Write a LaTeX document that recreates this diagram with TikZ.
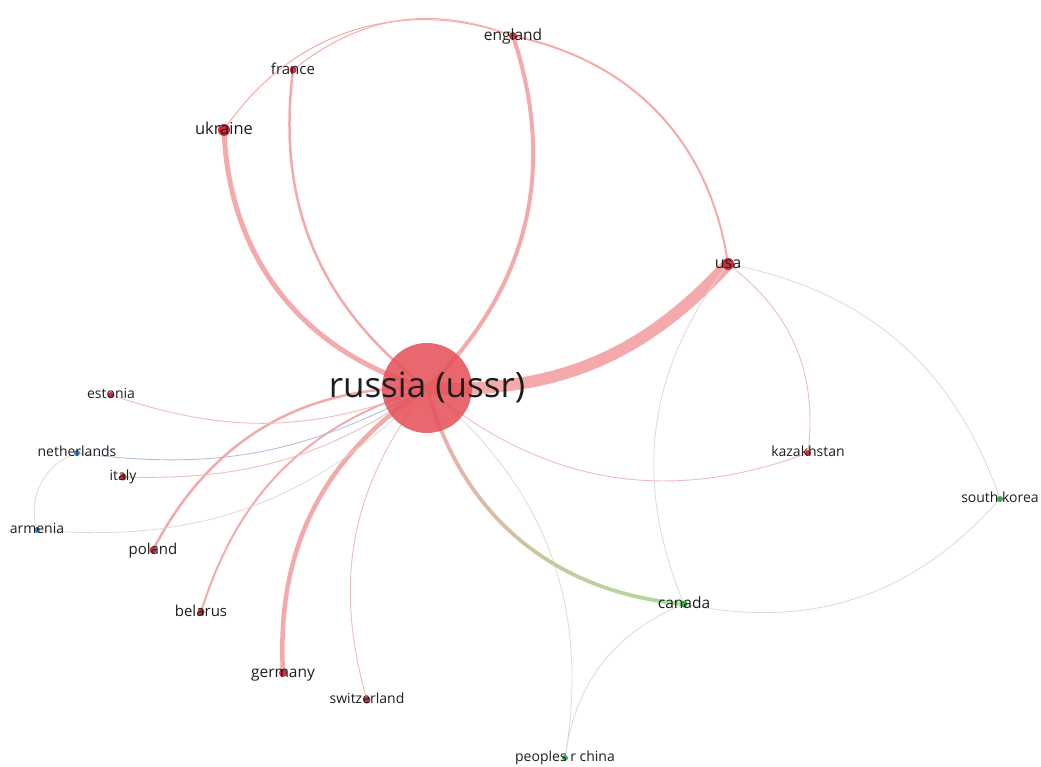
\documentclass[tikz,border=0pt]{standalone}
\usepackage{fontspec}
\setmainfont{Open Sans}
\usetikzlibrary{backgrounds,decorations.markings}
\definecolor{edgered}{RGB}{244,170,170}
\definecolor{edgethin}{RGB}{238,188,190}
\definecolor{edgegray}{RGB}{218,218,218}
\definecolor{edgeblue}{RGB}{172,194,220}
\definecolor{edgegreen}{RGB}{170,222,152}
\definecolor{dotred}{RGB}{205,45,60}
\definecolor{dotblue}{RGB}{70,140,200}
\definecolor{dotgreen}{RGB}{60,170,80}
\definecolor{rucol}{RGB}{230,82,90}
\definecolor{labcol}{RGB}{30,30,30}
\tikzset{
  dot/.style={circle, inner sep=0pt, minimum size=#1},
  rdot/.style={dot=#1, fill=dotred},
  bdot/.style={dot=#1, fill=dotblue},
  gdot/.style={dot=#1, fill=dotgreen},
  lab/.style={anchor=base, yshift={-0.27*#1}, inner sep=0pt, text=labcol, font=\fontsize{#1}{#1}\selectfont},
  ered/.style={draw=edgered, line width=#1},
  ethin/.style={draw=edgethin, line width=0.9pt},
  egray/.style={draw=edgegray, line width=0.8pt},
  eblue/.style={draw=edgeblue, line width=0.9pt},
}
\begin{document}
\begin{tikzpicture}[x=1pt,y=1pt]
\useasboundingbox (0,0) rectangle (1041,-767);
% nodes (dots)
\node[circle, fill=rucol, fill opacity=0.88, minimum size=90pt, inner sep=0pt] (ru) at (427,-388) {};
\node[rdot=8pt]  (en) at (513,-36) {};
\node[rdot=7pt]  (fr) at (293,-70) {};
\node[rdot=12pt] (uk) at (224,-130) {};
\node[rdot=12pt] (us) at (728,-264) {};
\node[rdot=6pt]  (es) at (111,-395) {};
\node[bdot=6pt]  (ne) at (77,-453) {};
\node[rdot=7pt]  (it) at (123,-477) {};
\node[bdot=6pt]  (ar) at (37,-530) {};
\node[rdot=7pt]  (po) at (153,-550) {};
\node[rdot=7pt]  (be) at (201,-612) {};
\node[rdot=8pt]  (ge) at (283,-673) {};
\node[rdot=7pt]  (sw) at (367,-700) {};
\node[gdot=6pt]  (ch) at (565,-758) {};
\node[gdot=7pt]  (ca) at (684,-604) {};
\node[rdot=6pt]  (kz) at (808,-453) {};
\node[gdot=6pt]  (sk) at (1000,-499) {};
% edges
\begin{scope}[on background layer]
\draw[ered=12pt] (ru.center) to[bend right=25] (us.center);
\draw[ered=5pt] (ru.center) to[bend left=36] (uk.center);
\draw[ered=2.5pt] (ru.center) to[bend left=30] (fr.center);
\draw[ered=4pt] (ru.center) to[bend right=32] (en.center);
\draw[ered=2pt] (en.center) to[bend left=35] (us.center);
\draw[ered=1pt] (fr.center) to[bend left=30] (en.center);
\draw[ered=1pt] (uk.center) to[bend left=38] (en.center);
\draw[ethin] (us.center) to[bend left=30] (kz.center);
\draw[egray] (us.center) to[bend left=30] (sk.center);
\draw[egray] (us.center) to[bend right=30] (ca.center);
\draw[egray] (ca.center) to[bend right=30] (sk.center);
\draw[egray] (ca.center) to[bend right=30] (ch.center);
\draw[egray] (ru.center) to[bend left=30] (ch.center);
\draw[ethin] (ru.center) to[bend right=30] (kz.center);
\path[postaction={decorate}, decoration={markings,
  mark=between positions 0 and 1 step 0.004 with {%
    \pgfmathtruncatemacro\pp{100-\pgfkeysvalueof{/pgf/decoration/mark info/sequence number}/2.51}%
    \fill[fill=edgered!\pp!edgegreen] (0pt,0pt) circle (2pt);}}]
  (ru.center) to[bend right=35] (ca.center);
\draw[ethin] (ru.center) to[bend right=27] (sw.center);
\draw[ered=4.5pt] (ru.center) to[bend right=30] (ge.center);
\draw[ered=2pt] (ru.center) to[bend right=28] (be.center);
\draw[ered=2.5pt] (ru.center) to[bend right=32] (po.center);
\draw[ethin] (ru.center) to[bend left=20] (es.center);
\draw[eblue] (ru.center) to[bend left=18] (ne.center);
\draw[ethin] (ru.center) to[bend left=18] (it.center);
\draw[egray] (ne.center) to[bend right=45] (ar.center);
\draw[egray] (ar.center) to[bend right=25] (ru.center);
\end{scope}
% labels
\node[lab=35] (l-ru) at (ru.center) {russia (ussr)};
\node[lab=15.5] (l-en) at (en.center) {england};
\node[lab=15] (l-fr) at (fr.center) {france};
\node[lab=16.5] (l-uk) at (uk.center) {ukraine};
\node[lab=16] (l-us) at (us.center) {usa};
\node[lab=14] (l-es) at (es.center) {estonia};
\node[lab=14] (l-ne) at (ne.center) {netherlands};
\node[lab=14] (l-it) at (it.center) {italy};
\node[lab=14] (l-ar) at (ar.center) {armenia};
\node[lab=15] (l-po) at (po.center) {poland};
\node[lab=15] (l-be) at (be.center) {belarus};
\node[lab=15.5] (l-ge) at (ge.center) {germany};
\node[lab=14] (l-sw) at (sw.center) {switzerland};
\node[lab=14] (l-ch) at (ch.center) {peoples r china};
\node[lab=15.5] (l-ca) at (ca.center) {canada};
\node[lab=14] (l-kz) at (kz.center) {kazakhstan};
\node[lab=14] (l-sk) at (sk.center) {south korea};
\end{tikzpicture}
\end{document}
